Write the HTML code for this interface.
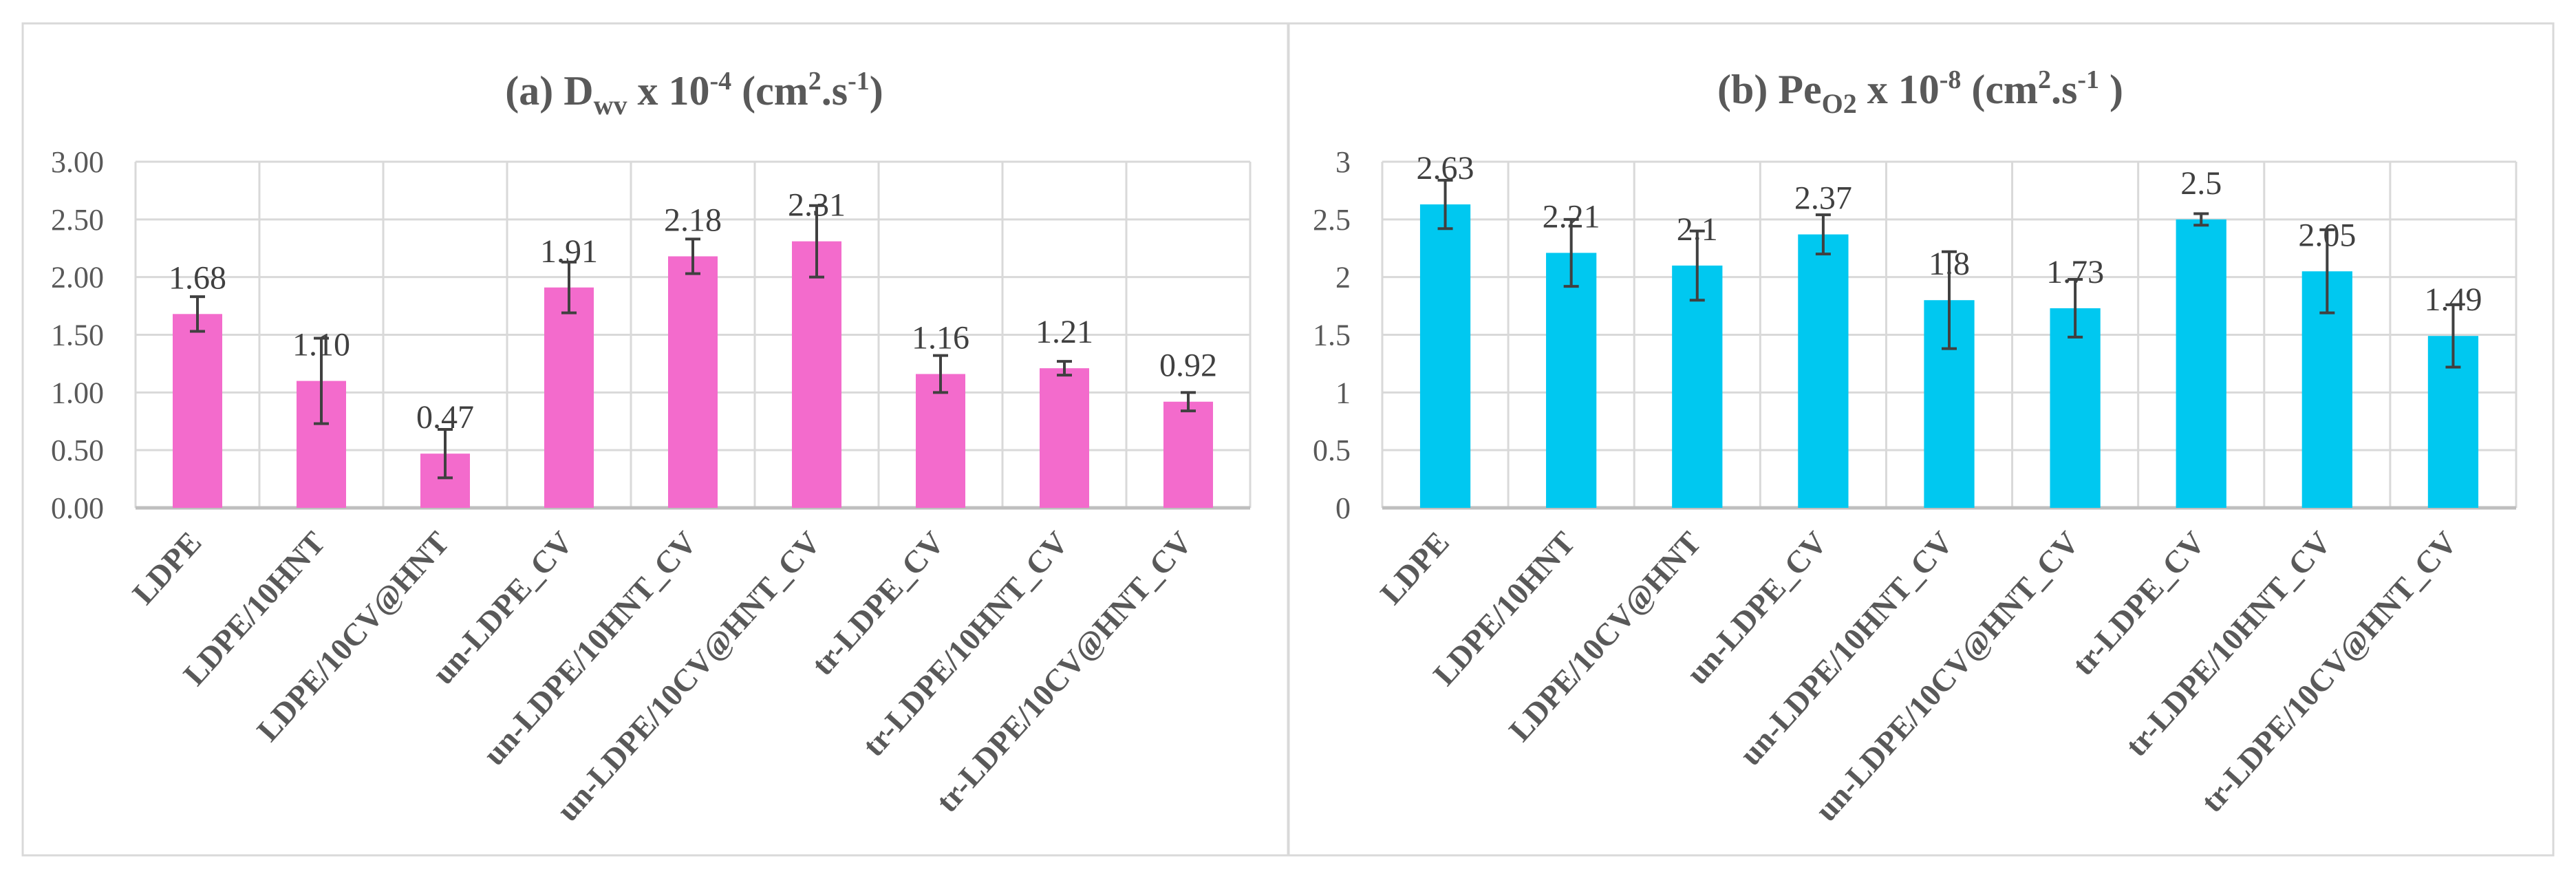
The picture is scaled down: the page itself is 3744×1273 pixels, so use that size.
<!DOCTYPE html>
<html><head><meta charset="utf-8"><style>
html,body{margin:0;padding:0;background:#fff;}
svg{display:block;font-family:"Liberation Serif",serif;}
</style></head><body>
<svg id="fig" width="3744" height="1273" viewBox="0 0 3744 1273" xmlns="http://www.w3.org/2000/svg">
<rect x="33" y="34" width="1839" height="1209" fill="#fff" stroke="#d9d9d9" stroke-width="3"/>
<rect x="1873" y="34" width="1838" height="1209" fill="#fff" stroke="#d9d9d9" stroke-width="3"/>
<text x="1009" y="152" text-anchor="middle" font-size="60" font-weight="bold" fill="#595959">(a) D<tspan font-size="40" dy="14">wv</tspan><tspan dy="-14"> x 10</tspan><tspan font-size="38" dy="-22">-4</tspan><tspan dy="22"> (cm</tspan><tspan font-size="38" dy="-22">2</tspan><tspan dy="22">.s</tspan><tspan font-size="38" dy="-22">-1</tspan><tspan dy="22">)</tspan></text>
<text x="2791" y="150" text-anchor="middle" font-size="60" font-weight="bold" fill="#595959">(b) Pe<tspan font-size="40" dy="14">O2</tspan><tspan dy="-14"> x 10</tspan><tspan font-size="38" dy="-22">-8</tspan><tspan dy="22"> (cm</tspan><tspan font-size="38" dy="-22">2</tspan><tspan dy="22">.s</tspan><tspan font-size="38" dy="-22">-1</tspan><tspan dy="22"> )</tspan></text>
<g id="ga"></g><g id="gb"></g>
</svg>
<script>
const categories=["LDPE","LDPE/10HNT","LDPE/10CV@HNT","un-LDPE_CV","un-LDPE/10HNT_CV","un-LDPE/10CV@HNT_CV","tr-LDPE_CV","tr-LDPE/10HNT_CV","tr-LDPE/10CV@HNT_CV"];
const dwvValues=[1.68,1.10,0.47,1.91,2.18,2.31,1.16,1.21,0.92];
const dwvErrors=[0.15,0.37,0.21,0.22,0.15,0.31,0.16,0.06,0.08];
const dwvLabels=["1.68","1.10","0.47","1.91","2.18","2.31","1.16","1.21","0.92"];
const dwvTicks=["0.00","0.50","1.00","1.50","2.00","2.50","3.00"];
const peValues=[2.63,2.21,2.1,2.37,1.8,1.73,2.5,2.05,1.49];
const peErrors=[0.21,0.29,0.3,0.17,0.42,0.25,0.05,0.36,0.27];
const peLabels=["2.63","2.21","2.1","2.37","1.8","1.73","2.5","2.05","1.49"];
const peTicks=["0","0.5","1","1.5","2","2.5","3"];
const NS="http://www.w3.org/2000/svg";
function mk(p,t,a){const e=document.createElementNS(NS,t);for(const k in a)e.setAttribute(k,a[k]);p.appendChild(e);return e;}
function draw(g,L,R,T,B,vals,errs,labs,ticks,color,prefix){
  const max=3,n=categories.length,cw=(R-L)/n;
  const y=v=>B-(v/max)*(B-T);
  const x=i=>L+cw*(i+0.5);
  ticks.forEach((t,i)=>{
    const v=max*i/(ticks.length-1);
    const ln=mk(g,"line",{x1:L,x2:R,y1:y(v),y2:y(v),stroke:"#d9d9d9","stroke-width":3});
    
    
    const tx=mk(g,"text",{x:L-46,y:y(v)+15,"text-anchor":"end","font-size":44,fill:"#595959"});
    tx.textContent=t;
    
    
  });
  for(let i=0;i<=n;i++){
    const vl=mk(g,"line",{x1:L+cw*i,x2:L+cw*i,y1:T,y2:B,stroke:"#d9d9d9","stroke-width":3});
    
    
  }
  const ax=mk(g,"line",{x1:L,x2:R,y1:B,y2:B,stroke:"#bfbfbf","stroke-width":5});
  
  
  const bw=cw*0.4;
  vals.forEach((v,i)=>{
    const r=mk(g,"rect",{x:x(i)-bw/2,y:y(v),width:bw,height:B-y(v),fill:color});
    
    
    const e=errs[i];
    const eg=mk(g,"g",{stroke:"#404040","stroke-width":4});
    
    
    mk(eg,"line",{x1:x(i),x2:x(i),y1:y(v+e),y2:y(v-e)});
    mk(eg,"line",{x1:x(i)-11,x2:x(i)+11,y1:y(v+e),y2:y(v+e)});
    mk(eg,"line",{x1:x(i)-11,x2:x(i)+11,y1:y(v-e),y2:y(v-e)});
    const dl=mk(g,"text",{x:x(i),y:y(v)-37,"text-anchor":"middle","font-size":48,fill:"#404040"});
    dl.textContent=labs[i];
    
    
    const cx=x(i)+8, cy=B+52;
    const cl=mk(g,"text",{x:cx,y:cy,"text-anchor":"end","font-size":46,"font-weight":"bold",fill:"#595959",transform:`rotate(-48 ${cx} ${cy})`});
    cl.textContent=categories[i];
    
    
  });
}
draw(document.getElementById("ga"),197,1817,235,738,dwvValues,dwvErrors,dwvLabels,dwvTicks,"#f36bcc","dwv");
draw(document.getElementById("gb"),2009,3657,235,738,peValues,peErrors,peLabels,peTicks,"#00c8f0","pe");
</script>
</body></html>
